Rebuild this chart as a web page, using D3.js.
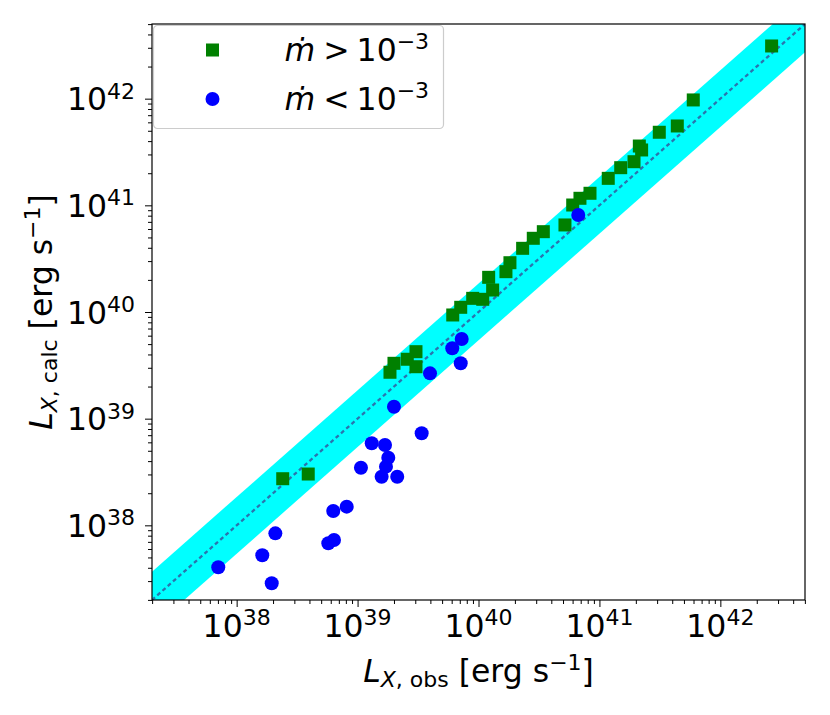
<!DOCTYPE html>
<html>
<head>
<meta charset="utf-8">
<script src="https://cdn.jsdelivr.net/npm/d3@7"></script>
<style>
  body { margin: 0; background: #fff; }
  text { font-family: "DejaVu Sans", sans-serif; fill: #000; }
</style>
</head>
<body>
<div id="chart"></div>
<script>
// log10 of the luminosities (erg/s)
// mdot > 1e-3 (green squares)
const highObs  = [38.381, 38.592, 39.268, 39.301, 39.411, 39.483, 39.483, 39.787, 39.853, 39.952,
                  40.035, 40.117, 40.084, 40.227, 40.260, 40.365, 40.453, 40.536, 40.715, 40.779,
                  40.839, 40.922, 41.073, 41.176, 41.286, 41.330, 41.349, 41.495, 41.644, 41.776, 42.424];
const highCalc = [38.437, 38.481, 39.435, 39.519, 39.557, 39.628, 39.487, 39.972, 40.044, 40.128,
                  40.119, 40.206, 40.325, 40.378, 40.462, 40.597, 40.691, 40.753, 40.816, 41.003,
                  41.066, 41.113, 41.253, 41.353, 41.409, 41.556, 41.519, 41.685, 41.744, 41.988, 42.494];
// mdot < 1e-3 (blue circles)
const lowObs  = [37.848, 38.290, 38.212, 38.320, 38.758, 38.805, 38.799, 38.910, 39.028, 39.117, 39.227,
                 39.254, 39.235, 39.199, 39.328, 39.530, 39.301, 39.599, 39.783, 39.861, 39.853, 40.825];
const lowCalc = [37.607, 37.457, 37.719, 37.925, 37.832, 37.863, 38.135, 38.175, 38.540, 38.769, 38.753,
                 38.634, 38.550, 38.456, 38.456, 38.863, 39.112, 39.425, 39.660, 39.747, 39.519, 40.909];

const majorExps = [38, 39, 40, 41, 42];
const axisExps = [37.3, 42.7];   // log10 range of both axes
const bandDex = 0.266;           // half width of the cyan band

const legendItems = [
    {label: ">", color: "green", shape: "square"},
    {label: "<", color: "blue", shape: "circle"}
];

const fontMain = 31.5, fontSup = 22;

// set the dimensions and margins of the graph
const margin = {top: 24, right: 25, bottom: 115, left: 152},
    width = 830 - margin.left - margin.right,
    height = 715 - margin.top - margin.bottom;

const svg = d3.select("#chart")
    .append("svg")
    .attr("width", width + margin.left + margin.right)
    .attr("height", height + margin.top + margin.bottom);

const g = svg.append("g")
    .attr("transform", `translate(${margin.left},${margin.top})`);

const domain = axisExps.map(e => Math.pow(10, e));
const x = d3.scaleLog().domain(domain).range([0, width]);
const y = d3.scaleLog().domain(domain).range([height, 0]);

g.append("clipPath").attr("id", "plotclip")
    .append("rect").attr("width", width).attr("height", height);

// minor ticks 2..9 in every decade
const minorTicks = [];
d3.range(37, 43).forEach(e => {
    d3.range(2, 10).forEach(m => {
        const v = m * Math.pow(10, e);
        if (v >= domain[0] && v <= domain[1]) minorTicks.push(v);
    });
});
const majorTicks = majorExps.map(e => Math.pow(10, e));

/* 1:1 band and line */
const k = Math.pow(10, bandDex);
const plotArea = g.append("g").attr("clip-path", "url(#plotclip)");

plotArea.append("path")
    .datum(domain)
    .attr("fill", "#00ffff")
    .attr("d", d3.area()
        .x(d => x(d))
        .y0(d => y(d / k))
        .y1(d => y(d * k)));

plotArea.append("path")
    .datum(domain)
    .attr("fill", "none")
    .attr("stroke", "#2a74ae")
    .attr("stroke-width", 2.3)
    .attr("stroke-dasharray", "4,3")
    .attr("d", d3.line().x(d => x(d)).y(d => y(d)));

// green squares
const sq = 13;
plotArea.append("g")
    .selectAll("rect")
    .data(highObs.map((v, i) => [Math.pow(10, v), Math.pow(10, highCalc[i])]))
    .join("rect")
    .attr("x", d => x(d[0]) - sq / 2)
    .attr("y", d => y(d[1]) - sq / 2)
    .attr("width", sq)
    .attr("height", sq)
    .attr("fill", "green");

// blue circles
plotArea.append("g")
    .selectAll("circle")
    .data(lowObs.map((v, i) => [Math.pow(10, v), Math.pow(10, lowCalc[i])]))
    .join("circle")
    .attr("cx", d => x(d[0]))
    .attr("cy", d => y(d[1]))
    .attr("r", 7)
    .attr("fill", "blue");

/* axes */
function powerLabel(sel, exp, dySup) {
    sel.append("tspan").text("10");
    sel.append("tspan").attr("font-size", fontSup).attr("dy", dySup).text(exp);
}

const xAxis = g.append("g").attr("transform", `translate(0,${height})`);
xAxis.append("g")
    .call(d3.axisBottom(x).tickValues(minorTicks).tickSize(4).tickFormat(""))
    .call(a => a.select(".domain").remove());
xAxis.append("g")
    .call(d3.axisBottom(x).tickValues(majorTicks).tickSize(7).tickFormat(""))
    .call(a => a.select(".domain").remove());
xAxis.selectAll("line").attr("stroke", "#000").attr("stroke-width", 1);

g.append("g").selectAll("text")
    .data(majorExps)
    .join("text")
    .attr("x", d => x(Math.pow(10, d)))
    .attr("y", height + 37)
    .attr("text-anchor", "middle")
    .attr("font-size", fontMain)
    .each(function(d) { powerLabel(d3.select(this), d, -12); });

const yAxis = g.append("g");
yAxis.append("g")
    .call(d3.axisLeft(y).tickValues(minorTicks).tickSize(4).tickFormat(""))
    .call(a => a.select(".domain").remove());
yAxis.append("g")
    .call(d3.axisLeft(y).tickValues(majorTicks).tickSize(7).tickFormat(""))
    .call(a => a.select(".domain").remove());
yAxis.selectAll("line").attr("stroke", "#000").attr("stroke-width", 1);

g.append("g").selectAll("text")
    .data(majorExps)
    .join("text")
    .attr("x", -17)
    .attr("y", d => y(Math.pow(10, d)) + 11.5)
    .attr("text-anchor", "end")
    .attr("font-size", fontMain)
    .each(function(d) { powerLabel(d3.select(this), d, -11.5); });

// frame
g.append("rect")
    .attr("width", width)
    .attr("height", height)
    .attr("fill", "none")
    .attr("stroke", "#000")
    .attr("stroke-width", 1.2);

/* axis titles */
function axisTitle(sel, sub) {
    sel.append("tspan").attr("font-style", "italic").text("L");
    sel.append("tspan").attr("font-size", fontSup).attr("dy", 5).attr("font-style", "italic").text("X");
    sel.append("tspan").attr("font-size", fontSup).text(", " + sub);
    sel.append("tspan").attr("dy", -5).text(" [erg s");
    sel.append("tspan").attr("font-size", fontSup).attr("dy", -12).text("\u22121");
    sel.append("tspan").attr("dy", 12).text("]");
}

svg.append("text")
    .attr("x", margin.left + width / 2)
    .attr("y", 682)
    .attr("text-anchor", "middle")
    .attr("font-size", fontMain)
    .call(axisTitle, "obs");

svg.append("text")
    .attr("transform", `translate(52,${margin.top + height / 2}) rotate(-90)`)
    .attr("text-anchor", "middle")
    .attr("font-size", fontMain)
    .call(axisTitle, "calc");

/* legend */
const legend = svg.append("g").attr("transform", "translate(153.5,25.5)");
legend.append("rect")
    .attr("width", 290)
    .attr("height", 103)
    .attr("rx", 4)
    .attr("fill", "#fff")
    .attr("fill-opacity", 0.8)
    .attr("stroke", "#cccccc")
    .attr("stroke-width", 1.2);

const rows = legend.selectAll("g.row")
    .data(legendItems)
    .join("g")
    .attr("class", "row")
    .attr("transform", (d, i) => `translate(0,${24.5 + i * 49})`);

rows.filter(d => d.shape === "square").append("rect")
    .attr("x", 59 - sq / 2).attr("y", -sq / 2)
    .attr("width", sq).attr("height", sq)
    .attr("fill", d => d.color);
rows.filter(d => d.shape === "circle").append("circle")
    .attr("cx", 59).attr("r", 7)
    .attr("fill", d => d.color);

rows.append("text")
    .attr("x", 131)
    .attr("y", 11)
    .attr("font-size", fontMain)
    .each(function(d) {
        const t = d3.select(this);
        t.append("tspan").attr("font-style", "italic").text("\u1E41");
        t.append("tspan").attr("dx", 8).text(d.label);
        t.append("tspan").attr("dx", 7).text("10");
        t.append("tspan").attr("font-size", fontSup).attr("dy", -12).text("\u22123");
    });
</script>
</body>
</html>
